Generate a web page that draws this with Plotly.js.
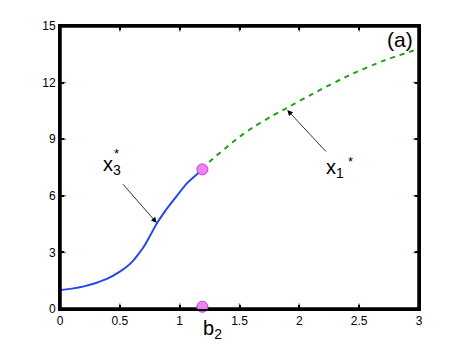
<!DOCTYPE html>
<html>
<head>
<meta charset="utf-8">
<script src="https://cdn.plot.ly/plotly-3.0.1.min.js"></script>
</head>
<body style="margin:0">
<div id="graph"></div>
<script>
// stable branch x3* (solid blue)
const blueX = [0, 0.10, 0.20, 0.30, 0.40, 0.50, 0.56, 0.61, 0.66, 0.70, 0.75, 0.81, 0.88, 0.95, 1.06, 1.19];
const blueY = [1.0, 1.08, 1.20, 1.38, 1.62, 1.98, 2.25, 2.55, 2.95, 3.30, 3.85, 4.54, 5.20, 5.78, 6.66, 7.40];

// branch x1* (dashed green)
const greenX = [1.19, 1.25, 1.38, 1.50, 1.63, 1.77, 1.89, 2.14, 2.42, 2.70, 3.0];
const greenY = [7.40, 7.81, 8.51, 9.13, 9.70, 10.22, 10.64, 11.50, 12.40, 13.15, 13.80];

// bifurcation point b2
const pointX = [1.19, 1.19];
const pointY = [7.40, 0.12];

const xRange = [0, 3];
const yRange = [0, 15];
const xTicks = [0, 0.5, 1, 1.5, 2, 2.5, 3];
const xTickText = ['0', '0.5', '1', '1.5', '2', '2.5', '3'];
const yTicks = [0, 3, 6, 9, 12, 15];
const yTickText = ['0', '3', '6', '9', '12', '15'];

const fam = 'Liberation Sans, Arial, sans-serif';

function makeAxis(range, vals, text) {
    return {
        range: range, tickvals: vals, ticktext: text,
        showline: true, linecolor: 'black', linewidth: 2, mirror: 'ticks',
        ticks: 'inside', ticklen: 4, tickwidth: 1.5, tickcolor: 'black',
        showgrid: false, zeroline: false,
        tickfont: { family: fam, size: 12, color: 'black' }
    };
}

function makeLabel(x, y, text, size, extra) {
    return Object.assign({ x: x, y: y, text: text, showarrow: false,
        font: { family: fam, size: size, color: 'black' } }, extra || {});
}

function makeArrow(x, y, ax, ay) {
    return { x: x, y: y, ax: ax, ay: ay, text: '', showarrow: true,
        arrowhead: 2, arrowsize: 1.4, arrowwidth: 0.8, arrowcolor: 'black' };
}

// box frame and inside tick marks, drawn as traces from the axis ranges / tick values
const frameX = [xRange[0], xRange[1], xRange[1], xRange[0], xRange[0]];
const frameY = [yRange[0], yRange[0], yRange[1], yRange[1], yRange[0]];
const xTickMarkX = xTicks.concat(xTicks);
const xTickMarkY = xTicks.map(() => yRange[0]).concat(xTicks.map(() => yRange[1]));
const yTickMarkX = yTicks.map(() => xRange[0]).concat(yTicks.map(() => xRange[1]));
const yTickMarkY = yTicks.concat(yTicks);

Plotly.newPlot('graph', [
    { x: blueX, y: blueY, mode: 'lines', showlegend: false, hoverinfo: 'none',
      line: { color: 'rgb(40,70,240)', width: 2, shape: 'spline', smoothing: 0.6 } },
    { x: greenX, y: greenY, mode: 'lines', showlegend: false, hoverinfo: 'none',
      line: { color: 'rgb(30,160,20)', width: 2, dash: '5px,5px', shape: 'spline', smoothing: 0.6 } },
    { x: xTickMarkX, y: xTickMarkY, mode: 'markers', showlegend: false, hoverinfo: 'none',
      marker: { symbol: 'line-ns-open', size: 8, line: { color: 'black', width: 1.5 } } },
    { x: yTickMarkX, y: yTickMarkY, mode: 'markers', showlegend: false, hoverinfo: 'none',
      marker: { symbol: 'line-ew-open', size: 8, line: { color: 'black', width: 1.5 } } },
    { x: frameX, y: frameY, mode: 'lines', showlegend: false, hoverinfo: 'none',
      line: { color: 'black', width: 3.5 } },
    { x: pointX, y: pointY, mode: 'markers', showlegend: false, cliponaxis: false, hoverinfo: 'none',
      marker: { color: 'rgb(240,130,240)', size: 11, line: { color: 'rgb(190,60,210)', width: 1 } } }
], {
    width: 463, height: 348,
    margin: { l: 60, r: 44, t: 26, b: 39 },
    xaxis: makeAxis(xRange, xTicks, xTickText),
    yaxis: makeAxis(yRange, yTicks, yTickText),
    annotations: [
        makeArrow(0.808, 4.57, -35, -40),
        makeArrow(1.899, 10.55, 40, 43),
        makeLabel(0.434, 7.62, 'x<sub>3</sub>', 20),
        makeLabel(0.468, 8.25, '*', 13),
        makeLabel(2.30, 7.47, 'x<sub>1</sub>', 20),
        makeLabel(2.43, 7.80, '*', 13),
        makeLabel(1.278, -0.125, 'b<sub>2</sub>', 20, { xref: 'x', yref: 'paper' }),
        makeLabel(2.84, 14.3, '(a)', 21)
    ]
}, { displayModeBar: false });
</script>
</body>
</html>
